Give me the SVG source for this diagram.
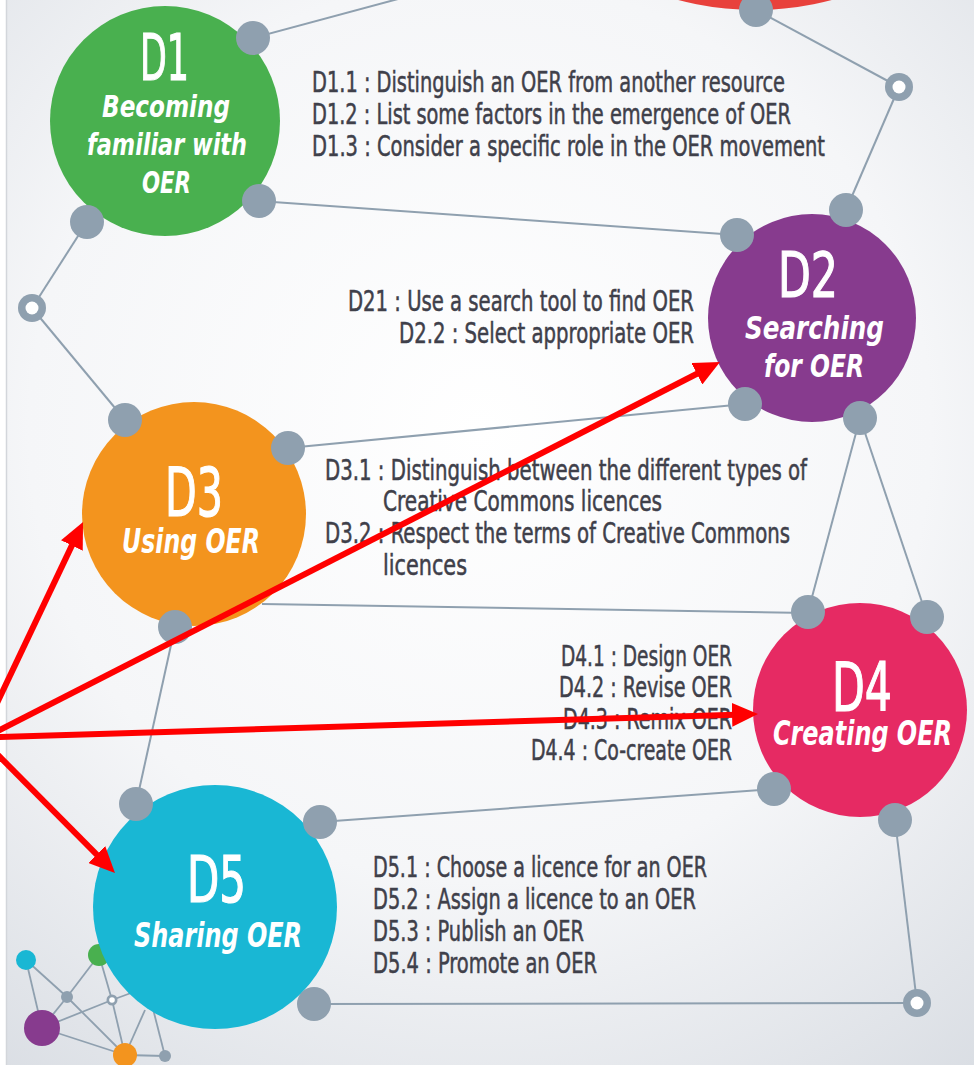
<svg xmlns="http://www.w3.org/2000/svg" width="974" height="1065" viewBox="0 0 974 1065">
<defs>
<radialGradient id="bg" cx="480" cy="430" r="820" gradientUnits="userSpaceOnUse">
<stop offset="0" stop-color="#ffffff"/>
<stop offset="0.55" stop-color="#f5f6f8"/>
<stop offset="1" stop-color="#d9dde3"/>
</radialGradient>
<marker id="ah" viewBox="0 0 26 24" markerWidth="26" markerHeight="24" refX="4" refY="12" orient="auto" markerUnits="userSpaceOnUse">
<path d="M0,0 L26,12 L0,24 z" fill="#ff0000"/>
</marker>
<style>
.ln{stroke:#8fa0af;stroke-width:2;fill:none}
.dot{fill:#8fa0af}
.hol{fill:#ffffff}
.mn{stroke:#8fa0af;stroke-width:1.8;fill:none}
.ttl{font-family:"Liberation Sans Narrow","DejaVu Sans Condensed","Liberation Sans",sans-serif;fill:#ffffff;stroke:#ffffff;stroke-width:1.2}
.sub{font-family:"Liberation Sans Narrow","DejaVu Sans Condensed","Liberation Sans",sans-serif;fill:#ffffff;font-weight:bold;font-style:italic}
.lst{font-family:"Liberation Sans Narrow","DejaVu Sans Condensed","Liberation Sans",sans-serif;fill:#3f404a;stroke:#3f404a;stroke-width:0.5;font-size:28px}
.arr{stroke:#ff0000;stroke-width:6;fill:none;marker-end:url(#ah)}
</style>
</defs>
<rect x="0" y="0" width="974" height="1065" fill="url(#bg)"/>
<rect x="0" y="0" width="6" height="1065" fill="#ffffff"/>
<line x1="6.5" y1="0" x2="6.5" y2="1065" stroke="#d3d6db" stroke-width="1.5"/>

<g id="mini-network">
<line class="mn" x1="26" y1="960" x2="67" y2="997"/>
<line class="mn" x1="26" y1="960" x2="42" y2="1028"/>
<line class="mn" x1="67" y1="997" x2="99" y2="955"/>
<line class="mn" x1="67" y1="997" x2="42" y2="1028"/>
<line class="mn" x1="67" y1="997" x2="125" y2="1055"/>
<line class="mn" x1="99" y1="955" x2="112" y2="1000"/>
<line class="mn" x1="42" y1="1028" x2="112" y2="1000"/>
<line class="mn" x1="42" y1="1028" x2="125" y2="1055"/>
<line class="mn" x1="112" y1="1000" x2="125" y2="1055"/>
<line class="mn" x1="112" y1="1000" x2="150" y2="986"/>
<line class="mn" x1="125" y1="1055" x2="145" y2="1010"/>
<line class="mn" x1="125" y1="1055" x2="165" y2="1056"/>
<line class="mn" x1="165" y1="1056" x2="152" y2="1005"/>
<circle cx="26" cy="960" r="10" fill="#19b7d4"/>
<circle cx="99" cy="955" r="11" fill="#49b04f"/>
<circle cx="67" cy="997" r="6" class="dot"/>
<circle cx="112" cy="1000" r="5.5" class="dot"/>
<circle cx="112" cy="1000" r="2.8" class="hol"/>
<circle cx="42" cy="1028" r="18" fill="#873b8e"/>
<circle cx="125" cy="1055" r="12" fill="#f3941e"/>
<circle cx="165" cy="1056" r="6" class="dot"/>
</g>

<g id="node-top">
<circle cx="755" cy="-290" r="300" fill="#e8413c"/>
</g>

<g id="node-d1">
<circle cx="165" cy="121" r="115" fill="#49b04f"/>
<text class="ttl" x="140" y="80" font-size="64" textLength="49" lengthAdjust="spacingAndGlyphs">D1</text>
<text class="sub" x="102" y="117" font-size="30" textLength="128" lengthAdjust="spacingAndGlyphs">Becoming</text>
<text class="sub" x="87" y="155" font-size="30" textLength="160" lengthAdjust="spacingAndGlyphs">familiar with</text>
<text class="sub" x="142" y="193" font-size="30" textLength="49" lengthAdjust="spacingAndGlyphs">OER</text>
<text class="lst" x="312" y="92" textLength="473" lengthAdjust="spacingAndGlyphs">D1.1 : Distinguish an OER from another resource</text>
<text class="lst" x="312" y="124" textLength="479" lengthAdjust="spacingAndGlyphs">D1.2 : List some factors in the emergence of OER</text>
<text class="lst" x="312" y="156" textLength="513" lengthAdjust="spacingAndGlyphs">D1.3 : Consider a specific role in the OER movement</text>
</g>

<g id="node-d2">
<circle cx="812" cy="318" r="104" fill="#873b8e"/>
<text class="ttl" x="778" y="297" font-size="62" textLength="60" lengthAdjust="spacingAndGlyphs">D2</text>
<text class="sub" x="745" y="339" font-size="32" textLength="139" lengthAdjust="spacingAndGlyphs">Searching</text>
<text class="sub" x="764" y="377" font-size="32" textLength="100" lengthAdjust="spacingAndGlyphs">for OER</text>
<text class="lst" x="348" y="311" textLength="346" lengthAdjust="spacingAndGlyphs">D21 : Use a search tool to find OER</text>
<text class="lst" x="399" y="343" textLength="295" lengthAdjust="spacingAndGlyphs">D2.2 : Select appropriate OER</text>
</g>

<g id="node-d3">
<circle cx="194" cy="514" r="112" fill="#f3941e"/>
<text class="ttl" x="165" y="516" font-size="68" textLength="58" lengthAdjust="spacingAndGlyphs">D3</text>
<text class="sub" x="122" y="553" font-size="34" textLength="138" lengthAdjust="spacingAndGlyphs">Using OER</text>
<text class="lst" x="325" y="480" textLength="482" lengthAdjust="spacingAndGlyphs">D3.1 : Distinguish between the different types of</text>
<text class="lst" x="383" y="511" textLength="279" lengthAdjust="spacingAndGlyphs">Creative Commons licences</text>
<text class="lst" x="325" y="543" textLength="465" lengthAdjust="spacingAndGlyphs">D3.2 : Respect the terms of Creative Commons</text>
<text class="lst" x="383" y="575" textLength="84" lengthAdjust="spacingAndGlyphs">licences</text>
</g>

<g id="node-d4">
<circle cx="860" cy="710" r="107" fill="#e62a63"/>
<text class="ttl" x="832" y="711" font-size="68" textLength="60" lengthAdjust="spacingAndGlyphs">D4</text>
<text class="sub" x="773" y="745" font-size="34" textLength="179" lengthAdjust="spacingAndGlyphs">Creating OER</text>
<text class="lst" x="561" y="666" textLength="171" lengthAdjust="spacingAndGlyphs">D4.1 : Design OER</text>
<text class="lst" x="559" y="697" textLength="173" lengthAdjust="spacingAndGlyphs">D4.2 : Revise OER</text>
<text class="lst" x="563" y="729" textLength="169" lengthAdjust="spacingAndGlyphs">D4.3 : Remix OER</text>
<text class="lst" x="531" y="760" textLength="201" lengthAdjust="spacingAndGlyphs">D4.4 : Co-create OER</text>
</g>

<g id="node-d5">
<circle cx="215" cy="907" r="122" fill="#19b7d4"/>
<text class="ttl" x="187" y="902" font-size="64" textLength="59" lengthAdjust="spacingAndGlyphs">D5</text>
<text class="sub" x="134" y="947" font-size="34" textLength="168" lengthAdjust="spacingAndGlyphs">Sharing OER</text>
<text class="lst" x="373" y="877" textLength="334" lengthAdjust="spacingAndGlyphs">D5.1 : Choose a licence for an OER</text>
<text class="lst" x="373" y="909" textLength="323" lengthAdjust="spacingAndGlyphs">D5.2 : Assign a licence to an OER</text>
<text class="lst" x="373" y="941" textLength="211" lengthAdjust="spacingAndGlyphs">D5.3 : Publish an OER</text>
<text class="lst" x="373" y="973" textLength="224" lengthAdjust="spacingAndGlyphs">D5.4 : Promote an OER</text>
</g>

<g id="connectors">
<line class="ln" x1="253" y1="38" x2="398" y2="-1"/>
<line class="ln" x1="756" y1="10" x2="899" y2="87"/>
<line class="ln" x1="899" y1="87" x2="846" y2="210"/>
<line class="ln" x1="259" y1="201" x2="737" y2="235"/>
<line class="ln" x1="87" y1="222" x2="32" y2="308"/>
<line class="ln" x1="32" y1="308" x2="125" y2="420"/>
<line class="ln" x1="745" y1="404" x2="288" y2="448"/>
<line class="ln" x1="860" y1="418" x2="808" y2="612"/>
<line class="ln" x1="860" y1="418" x2="927" y2="617"/>
<line class="ln" x1="262" y1="604" x2="808" y2="613"/>
<line class="ln" x1="175" y1="627" x2="136" y2="804"/>
<line class="ln" x1="774" y1="789" x2="320" y2="822"/>
<line class="ln" x1="895" y1="820" x2="917" y2="1003"/>
<line class="ln" x1="917" y1="1003" x2="314" y2="1004"/>
<circle class="dot" cx="756" cy="10" r="17"/>
<circle class="dot" cx="899" cy="87" r="14"/>
<circle class="hol" cx="899" cy="87" r="6.5"/>
<circle class="dot" cx="253" cy="38" r="17"/>
<circle class="dot" cx="259" cy="201" r="17"/>
<circle class="dot" cx="87" cy="222" r="17"/>
<circle class="dot" cx="32" cy="308" r="14"/>
<circle class="hol" cx="32" cy="308" r="6.5"/>
<circle class="dot" cx="846" cy="210" r="17"/>
<circle class="dot" cx="737" cy="235" r="17"/>
<circle class="dot" cx="745" cy="404" r="17"/>
<circle class="dot" cx="860" cy="418" r="17"/>
<circle class="dot" cx="125" cy="420" r="17"/>
<circle class="dot" cx="288" cy="448" r="17"/>
<circle class="dot" cx="175" cy="627" r="17"/>
<circle class="dot" cx="808" cy="612" r="17"/>
<circle class="dot" cx="927" cy="617" r="17"/>
<circle class="dot" cx="774" cy="789" r="17"/>
<circle class="dot" cx="895" cy="820" r="17"/>
<circle class="dot" cx="136" cy="804" r="17"/>
<circle class="dot" cx="320" cy="822" r="17"/>
<circle class="dot" cx="314" cy="1004" r="17"/>
<circle class="dot" cx="917" cy="1003" r="14"/>
<circle class="hol" cx="917" cy="1003" r="6.5"/>
</g>

<g id="arrows">
<line class="arr" x1="-3" y1="703" x2="73.6" y2="541.9"/>
<line class="arr" x1="-3" y1="731.5" x2="700.4" y2="372"/>
<line class="arr" x1="-3" y1="737.1" x2="736" y2="714.7"/>
<line class="arr" x1="-3" y1="754" x2="99.5" y2="857.4"/>
</g>
</svg>
